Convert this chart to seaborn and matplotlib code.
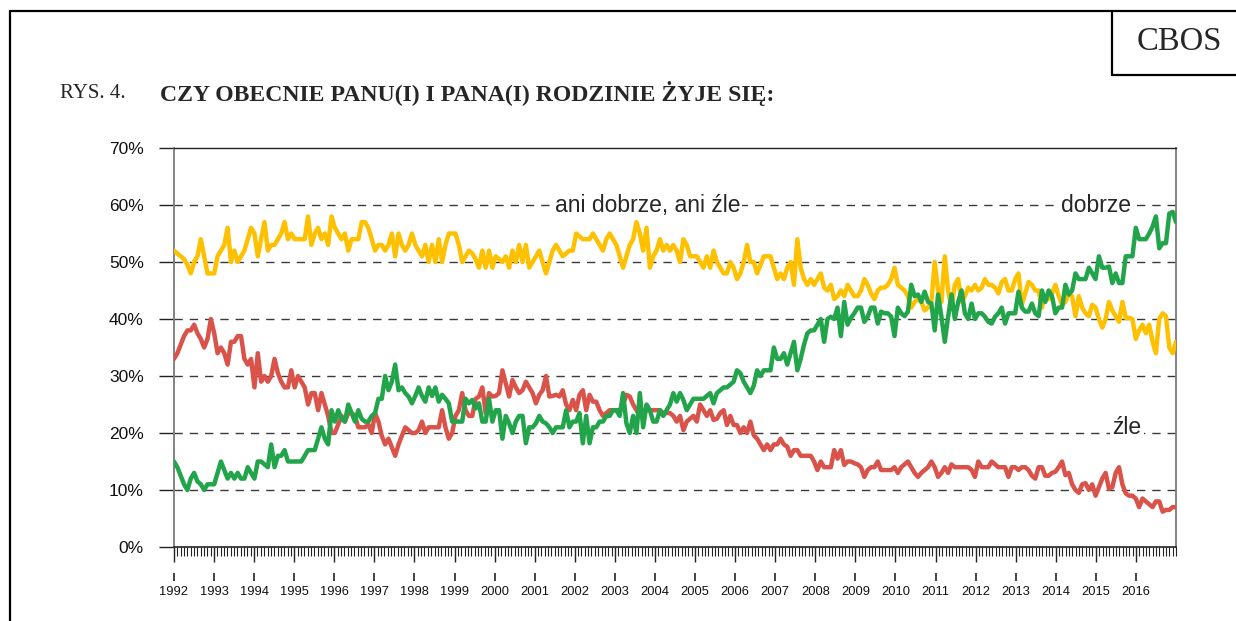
import numpy as np
import pandas as pd
import seaborn as sns
import matplotlib.pyplot as plt
from matplotlib.lines import Line2D
from matplotlib.ticker import FixedLocator

# --- DANE (miesięcznie 1992-2016) ---
YEARS = list(range(1992, 2017))
Y_TICKS = [0, 10, 20, 30, 40, 50, 60, 70]

DOBRZE = [
    15, 14, 12.5, 11, 10, 12, 13, 11.5, 11, 10, 11, 11,            # 1992
    11, 13, 15, 13.5, 12, 13, 12, 13, 12, 12, 14, 13,              # 1993
    12, 15, 15, 14.5, 14, 18, 14, 16, 16, 17, 15, 15,              # 1994
    15, 15, 15, 16, 17, 17, 17, 19, 21, 19, 18, 24,                # 1995
    22, 24, 22.5, 22, 25, 23.5, 22, 24, 22.5, 22, 22, 23,          # 1996
    23.5, 26, 26, 30, 27.5, 29, 32, 27.5, 28, 27, 26.4, 25.2,      # 1997
    26.5, 28, 26.5, 25.5, 28, 26.5, 28, 25.5, 26.7, 26, 25.2, 22,  # 1998
    22, 22, 22, 26, 25.2, 25.8, 24.3, 25.2, 22, 22, 26, 22,        # 1999
    24, 24, 19, 23, 21.7, 20, 22, 23, 23, 18.2, 21, 21,            # 2000
    21.7, 23, 22, 21.7, 21, 20, 21, 21, 21, 24, 21, 22,            # 2001
    22, 23.5, 18.2, 23, 18.2, 21, 21, 22, 22, 23, 23, 24,          # 2002
    24, 23, 27, 21.7, 20, 23, 20, 27, 21, 25, 24, 22,              # 2003
    22, 24, 23, 24, 25, 27, 25.5, 27, 25.8, 24, 25, 26,            # 2004
    26, 26, 26, 26.5, 27, 25.2, 27, 27.5, 28, 28, 28.5, 29,        # 2005
    31, 30.5, 29, 28, 27, 28.3, 31, 30, 31, 31, 31, 35,            # 2006
    33, 33, 34, 32, 34, 36, 31, 33, 35.5, 37.5, 38, 38,            # 2007
    39, 40, 36, 40, 40.4, 40, 42, 37, 43, 39, 40.2, 41,            # 2008
    42, 42, 39.5, 40.4, 42, 42, 39.2, 41.3, 41, 41, 40.4, 37,      # 2009
    42, 41, 40.5, 41.3, 46, 44, 44.3, 43, 44.8, 43, 42.7, 38,      # 2010
    44.3, 40.4, 36, 40.4, 44.3, 40, 43, 45, 41, 40, 42.7, 40,      # 2011
    41, 41, 40.4, 39.5, 39.2, 40.4, 41, 42, 39.2, 41, 41, 41,      # 2012
    44.8, 42, 41.3, 41.3, 42.7, 41, 40.5, 45, 43, 45, 44, 41,      # 2013
    42, 42, 46, 44.3, 45, 48, 47, 47, 47, 49, 48, 47,              # 2014
    51, 49, 49, 49.2, 46.3, 48, 46.3, 46.3, 51, 51, 51, 56,        # 2015
    54, 54, 54, 55, 56.2, 58, 52.4, 53.3, 53.3, 58.5, 58.8, 57,    # 2016
]

ANI = [
    52, 51.5, 51, 50.5, 49.5, 48, 50, 51, 54, 51, 48, 48,          # 1992
    48, 51, 52, 53, 56, 50, 52, 50, 51, 52, 54, 56,                # 1993
    55, 51, 54, 57, 52, 53, 53, 54, 55, 57, 54, 55,                # 1994
    54, 54, 54, 54, 58, 53, 55, 56, 54, 55, 53, 58,                # 1995
    56, 55, 54, 55, 52, 54, 54, 54, 57, 57, 56, 54,                # 1996
    52, 53, 53, 52, 53, 55, 51, 55, 53, 52, 53, 55,                # 1997
    53, 52, 51, 53, 50, 53, 50, 54, 50, 53, 55, 55,                # 1998
    55, 53, 50, 51, 52, 51.5, 50.5, 49, 52, 49, 52, 49,            # 1999
    51, 50.5, 50, 51, 49, 52, 50, 53, 50, 53, 49, 50,              # 2000
    51, 52, 50, 48, 50, 52, 53, 52, 51, 51.5, 52, 52,              # 2001
    55, 54.5, 54, 54, 54, 55, 54, 53, 52, 54, 55, 54,              # 2002
    53, 51, 49, 51, 53, 54, 57, 55, 52, 56, 49, 51,                # 2003
    52, 54, 52, 53, 52, 53, 52, 50, 54, 53, 51, 51,                # 2004
    51, 50, 49, 51, 49, 52, 50, 49, 48, 48, 50, 49,                # 2005
    47, 48, 50, 53, 50, 50, 48, 49.5, 51, 51, 51, 49,              # 2006
    47, 48, 47, 49, 50, 46, 54, 49, 47, 46, 47, 46,                # 2007
    47, 48, 45.5, 45, 46, 43.5, 44, 45, 44, 46, 45, 44,            # 2008
    44, 45, 47, 46, 44.5, 43.5, 45, 45.5, 45.5, 46, 47, 49,        # 2009
    46, 45.5, 45, 44, 42, 43, 43.5, 43, 41.5, 42, 43, 50,          # 2010
    45, 43, 51, 45, 42, 46, 47, 43, 44, 45.5, 45, 46,              # 2011
    45, 45.5, 47, 46, 46, 45.5, 44.5, 46.5, 47, 45, 45, 47,        # 2012
    48, 42.5, 44.5, 46.5, 46, 45, 45, 42, 44, 43.5, 44.5, 46,      # 2013
    44, 42.5, 43, 44.5, 44, 40.5, 44, 42, 41, 40.5, 42.5, 42,      # 2014
    40, 38.5, 40, 43, 41.5, 40.5, 39.5, 43, 40.2, 40.2, 40, 36.5,  # 2015
    38, 39, 37.5, 39, 36, 34, 40, 41, 40.5, 35, 34, 36,            # 2016
]

ZLE = [
    33, 34, 35.5, 37, 38, 38, 39, 37.5, 36.5, 35, 36.5, 40,        # 1992
    37.5, 34, 35, 34, 32, 36, 36, 37, 37, 33, 32, 33,              # 1993
    28, 34, 29, 30, 29, 30, 33, 30.5, 29, 28, 28, 31,              # 1994
    28, 30, 29, 28, 25, 27, 27, 24, 27, 25, 23, 20,                # 1995
    20, 21.5, 23, 22, 23.5, 23.5, 23, 21, 21, 21, 21.5, 20,        # 1996
    23.5, 22, 19.5, 18, 19, 17.5, 16, 18, 19.5, 21, 20.5, 20,      # 1997
    20, 20.5, 22, 20, 21, 21, 21, 21, 24, 21, 19, 20,              # 1998
    23, 24, 27, 24, 23, 23, 26, 26.4, 28, 23.5, 27, 26.4,          # 1999
    26.5, 27, 31, 28.7, 26.4, 29.3, 28, 27, 27.5, 29, 28, 27,      # 2000
    25.2, 26.7, 27.5, 30, 26.4, 26.5, 26.7, 26.4, 27.5, 25, 24, 25.8,  # 2001
    24, 26.7, 27.5, 24, 26.7, 25.5, 25.5, 24, 23, 23.5, 24, 24,    # 2002
    24, 24, 25, 26.7, 26.4, 25, 24, 23, 23.5, 24, 24, 24,          # 2003
    24, 24, 23.5, 23.5, 23.5, 23, 22, 23, 20.5, 22, 22.5, 23,      # 2004
    22, 25, 24, 23, 24, 22.3, 22.5, 23.5, 24, 21.4, 23, 21.4,      # 2005
    21.4, 20, 21, 20, 22, 19.6, 19, 18, 17, 18, 17, 18,            # 2006
    18, 19, 18, 17.6, 16, 17, 17, 16, 16, 16, 16, 15,              # 2007
    13.5, 15, 14, 14, 14, 17, 15.5, 17, 14.4, 15, 15, 14.7,        # 2008
    14.5, 14, 12.3, 13.5, 14, 14, 15, 13.5, 13.5, 13.5, 13.5, 14,  # 2009
    13, 14, 14.5, 15, 14, 13, 12.3, 13, 13.5, 14, 15, 14,          # 2010
    12.3, 13, 14, 13, 14.5, 14, 14, 14, 14, 14, 13.5, 12.3,        # 2011
    15, 14, 14, 14, 15, 14.5, 14, 14, 14, 12.3, 14, 14,            # 2012
    13.5, 14, 14, 13.5, 12.5, 12, 14, 14, 12.5, 12.5, 13, 13.2,    # 2013
    14, 15, 12.6, 13, 11, 10, 9.5, 11, 11.2, 10, 11, 9,            # 2014
    10.5, 12, 13, 10.2, 10.5, 13, 14, 11, 9.4, 9, 9, 8.5,          # 2015
    7, 8.5, 8, 7.5, 7, 8, 8, 6.2, 6.5, 6.5, 7, 7,                  # 2016
]

SERIES = ['ani dobrze, ani źle', 'źle', 'dobrze']
COLORS = {'dobrze': '#22a44a', 'ani dobrze, ani źle': '#ffc000', 'źle': '#d9534a'}

# Tabela w formacie "long" dla seaborna
n = len(DOBRZE)
t = np.linspace(YEARS[0], YEARS[-1] + 1, n)
df = pd.concat([
    pd.DataFrame({'t': t, 'proc': vals, 'odp': name})
    for name, vals in zip(SERIES, [ANI, ZLE, DOBRZE])
])

sns.set_theme(style='white')
plt.rcParams['font.family'] = ['Liberation Sans', 'DejaVu Sans']

W, H = 1236, 621
fig = plt.figure(figsize=(W / 100, H / 100), dpi=100)
ax = fig.add_axes([174 / W, 1 - 547 / H, (1176 - 174) / W, (547 - 148) / H])

# linie siatki (przerywane)
for v in Y_TICKS[1:-1]:
    ax.axhline(v, color='#3a3a3a', lw=1, ls=(0, (6, 5)), zorder=1)

sns.lineplot(data=df, x='t', y='proc', hue='odp', hue_order=SERIES,
             palette=COLORS, linewidth=3.2, estimator=None, legend=False,
             ax=ax, zorder=3)

ax.set_xlim(YEARS[0], YEARS[-1] + 1)
ax.set_ylim(0, 70)
ax.set_xlabel('')
ax.set_ylabel('')

ax.set_yticks(Y_TICKS)
ax.set_yticklabels([f'{v}%' for v in Y_TICKS])
ax.tick_params(axis='y', left=True, direction='out', length=10.8, width=1,
               color='#222222', labelsize=12.5, pad=11, labelcolor='#111111')

ax.xaxis.set_major_locator(FixedLocator(YEARS))
ax.xaxis.set_minor_locator(FixedLocator(np.arange(YEARS[0], YEARS[-1] + 1 + 1e-6, 1 / 12)))
ax.set_xticklabels([str(y) for y in YEARS])
ax.tick_params(axis='x', which='major', bottom=True, direction='out', length=10.8,
               width=1, color='#222222', labelsize=9.3, pad=17, labelcolor='#111111')
ax.tick_params(axis='x', which='minor', bottom=True, direction='out', length=6.2,
               width=0.8, color='#222222')

# krótkie kreski nad etykietami lat (pod osią, w układzie osi)
ax.vlines(YEARS, -26 / 399, -34 / 399, transform=ax.get_xaxis_transform(),
          colors='#222222', linewidth=1.2, clip_on=False)

for side in ['left', 'right']:
    ax.spines[side].set_color('#7a7a7a')
    ax.spines[side].set_linewidth(1.3)
ax.spines['top'].set_color('#222222')
ax.spines['top'].set_linewidth(1)
ax.spines['bottom'].set_color('#222222')
ax.spines['bottom'].set_linewidth(1.2)

# opisy serii
box = dict(facecolor='white', edgecolor='none', pad=1.5)
ax.text(2003.81, 60, 'ani dobrze, ani źle', fontsize=16.5, ha='center', va='center',
        bbox=box, zorder=4)
ax.text(2015.0, 60, 'dobrze', fontsize=16.5, ha='center', va='center', bbox=box, zorder=4)
ax.text(2015.78, 21, 'źle', fontsize=16.5, ha='center', va='center', bbox=box, zorder=4)

# nagłówek
serif = ['Liberation Serif', 'DejaVu Serif']
fig.text(60 / W, 1 - 93 / H, 'RYS. 4.', family=serif, fontsize=15, va='center', ha='left')
fig.text(160 / W, 1 - 93 / H, 'CZY OBECNIE PANU(I) I PANA(I) RODZINIE ŻYJE SIĘ:',
         family=serif, fontsize=17.1, fontweight='bold', va='center', ha='left')
fig.text(1179 / W, 1 - 42 / H, 'CBOS', family=serif, fontsize=23.5, va='center', ha='center')

# ramka strony i ramka CBOS
frame = dict(color='black', lw=1.6, transform=fig.transFigure)
fig.add_artist(Line2D([10 / W, 10 / W], [0, 1 - 11 / H], **frame))
fig.add_artist(Line2D([10 / W, 1], [1 - 11 / H, 1 - 11 / H], **frame))
fig.add_artist(Line2D([1112 / W, 1112 / W], [1 - 11 / H, 1 - 75 / H], **frame))
fig.add_artist(Line2D([1112 / W, 1], [1 - 75 / H, 1 - 75 / H], **frame))

fig.savefig('out.png', dpi=100, facecolor='white')
